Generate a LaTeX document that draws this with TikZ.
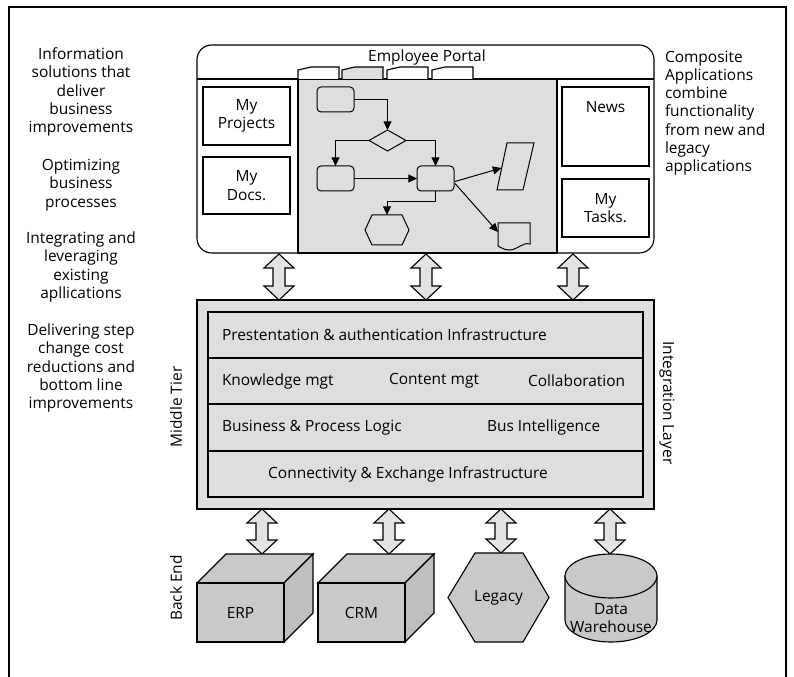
\documentclass[tikz,border=0pt]{standalone}
\usepackage{fontspec}
\setmainfont{Open Sans}
\usetikzlibrary{calc,arrows.meta,shapes.geometric}
\definecolor{panel}{gray}{0.87}
\definecolor{boxg}{gray}{0.79}
\definecolor{sideg}{gray}{0.75}
\definecolor{arrg}{gray}{0.89}
\newcommand\dblarr[2]{\draw[ln, fill=arrg] (#1) -- ($(#1)+(15,14)$) -- ($(#1)+(6,14)$) -- ($(#2)+(6,-14)$) -- ($(#2)+(15,-14)$) -- (#2) -- ($(#2)+(-15,-14)$) -- ($(#2)+(-6,-14)$) -- ($(#1)+(-6,14)$) -- ($(#1)+(-15,14)$) -- cycle;}
\begin{document}
\begin{tikzpicture}[x=0.75pt,y=-0.75pt,
  every node/.style={font=\fontsize{11.6}{13.7}\selectfont, inner sep=0pt, outer sep=0pt},
  ln/.style={line width=0.85pt},
  thin/.style={line width=0.75pt},
  pbox/.style={draw, ln, fill=white, minimum width=65.25pt, align=center},
  fbox/.style={draw, thin, rounded corners=3pt, minimum width=27.75pt, minimum height=18.75pt},
  farr/.style={thin, -{Triangle[length=6.5pt,width=6pt]}},
  row/.style={draw, ln, fill=panel, minimum width=326.25pt},
  cube/.style={draw, ln, fill=boxg, minimum width=65.25pt, minimum height=44.25pt},
  side/.style={align=center}]
\useasboundingbox (0,0) rectangle (794,677);
% outer frame
\draw[line width=1.1pt] (9,680) -- (9,7) -- (786,7) -- (786,680);

% side texts
\node[side] (t1) at (81,92) {Information\\solutions that\\deliver\\business\\improvements};
\node[side] (t2) at (81,185) {Optimizing\\business\\processes};
\node[side] (t3) at (81,267) {Integrating and\\leveraging\\existing\\apllications};
\node[side] (t4) at (81,368) {Delivering step\\change cost\\reductions and\\bottom line\\improvements};
\node[side, align=left, anchor=west] (t5) at (665,113) {Composite\\Applications\\combine\\functionality\\from new and\\legacy\\applications};

% portal
\node[draw, ln, fill=white, rounded corners=11pt, minimum width=342.75pt, minimum height=156pt] (portal) at (425.5,149) {};
\coordinate (tabline) at (0,79);
\draw[ln] (portal.west |- tabline) -- (portal.east |- tabline);
\node (ptitle) at (427,57) {Employee Portal};
\node[draw, ln, fill=panel, minimum width=194.25pt, minimum height=130.5pt] (panel) at (427.5,166) {};
\foreach \a/\b/\f in {298/339/white, 342/383/panel, 387/428/white, 432/473/white}
  \draw[ln, fill=\f] (\a,79) -- (\a,70) -- (\a+13,67) -- (\b,67) -- (\b,79);

\node[pbox, minimum height=43.5pt] (proj) at (246.5,116) {My\\Projects};
\node[pbox, minimum height=42.75pt] (docs) at (246.5,185.5) {My\\Docs.};
\node[pbox, minimum height=59.25pt] (news) at (605.5,126.5) {};
\node (newst) at (605.5,107) {News};
\node[pbox, minimum height=43.5pt] (tasks) at (605.5,208) {My\\Tasks.};

% flowchart
\node[fbox] (A) at (335.5,99.5) {};
\node[draw, thin, diamond, minimum width=27.75pt, minimum height=15.75pt] (D) at (387.5,140.5) {};
\node[fbox] (B) at (335.5,178.5) {};
\node[fbox] (C) at (435.5,178.5) {};
\node[minimum width=33pt, minimum height=22.5pt] (hex) at (387,230) {};
\draw[thin] (hex.west) -- ($(hex.north west)+(7,0)$) -- ($(hex.north east)+(-7,0)$) -- (hex.east) -- ($(hex.south east)+(-7,0)$) -- ($(hex.south west)+(7,0)$) -- cycle;
\node[minimum width=27.75pt, minimum height=35.25pt] (para) at (515.5,166.5) {};
\draw[thin] (para.south west) -- ($(para.north west)+(10,0)$) -- (para.north east) -- ($(para.south east)+(-11,0)$) -- cycle;
\node[minimum width=24pt, minimum height=20.25pt] (doc) at (514,236.5) {};
\draw[thin] (498,223) -- (530,223) -- (530,244) .. controls (522,242) and (518,250) .. (509,250) .. controls (504,250) and (500,247) .. (498,246) -- cycle;
\coordinate (ptip) at (501.5,168);
\coordinate (dtip) at (498,232);
\draw[farr] (A.east) -| (D.north);
\draw[farr] (D.west) -| (B.north);
\draw[farr] (D.east) -| (C.north);
\draw[farr] (B.east) -- (C.west);
\draw[farr] (C.south) -- ++(0,11) -| (hex.north);
\draw[farr] ($(C.east)+(1,3)$) -- (ptip);
\draw[farr] ($(C.east)+(1,5)$) -- (dtip);

% upper double arrows
\coordinate (u1t) at (279,254); \coordinate (u1b) at (279,300);
\coordinate (u2t) at (426,254); \coordinate (u2b) at (426,300);
\coordinate (u3t) at (573,254); \coordinate (u3b) at (573,300);
\dblarr{u1t}{u1b}
\dblarr{u2t}{u2b}
\dblarr{u3t}{u3b}

% middle tier
\node[draw, ln, fill=panel, minimum width=342.75pt, minimum height=156.75pt] (mid) at (425.5,404.5) {};
\node[row, minimum height=34.5pt] (r1) at (425.5,335) {};
\node[row, minimum height=34.5pt] (r2) at (425.5,381) {};
\node[row, minimum height=35.25pt] (r3) at (425.5,427.5) {};
\node[row, minimum height=34.5pt] (r4) at (425.5,474) {};
\node[anchor=west] (l1) at (222,335) {Prestentation \& authentication Infrastructure};
\node[anchor=west] (l2) at (222,381) {Knowledge mgt};
\node[anchor=west] (l3) at (389,381) {Content mgt};
\node[anchor=west] (l4) at (528,381) {Collaboration};
\node[anchor=west] (l5) at (222,427.5) {Business \& Process Logic};
\node[anchor=west] (l6) at (487,427.5) {Bus Intelligence};
\node (l7) at (408,474) {Connectivity \& Exchange Infrastructure};

\node[rotate=90] (mtier) at (176,407) {Middle Tier};
\node[rotate=90] (bend) at (176,588) {Back End};
\node[rotate=-90] (ilayer) at (667,403) {Integration Layer};

% lower double arrows
\coordinate (d1t) at (262,509); \coordinate (d1b) at (262,554);
\coordinate (d2t) at (389,509); \coordinate (d2b) at (389,554);
\coordinate (d3t) at (501,509); \coordinate (d3b) at (501,553);
\coordinate (d4t) at (610,509); \coordinate (d4b) at (610,554);
\dblarr{d1t}{d1b}
\dblarr{d2t}{d2b}
\dblarr{d3t}{d3b}
\dblarr{d4t}{d4b}

% back end
\draw[ln, fill=boxg] (226,554) -- (313,554) -- (284,583) -- (197,583) -- cycle;
\draw[ln, fill=sideg] (284,583) -- (313,554) -- (313,613) -- (284,642) -- cycle;
\node[cube] (erp) at (240.5,612.5) {ERP};
\draw[ln, fill=boxg] (347,554) -- (434,554) -- (405,583) -- (318,583) -- cycle;
\draw[ln, fill=sideg] (405,583) -- (434,554) -- (434,613) -- (405,642) -- cycle;
\node[cube] (crm) at (361.5,612.5) {\raisebox{-3pt}{CRM}};
\draw[ln, fill=boxg] (448,597.5) -- (475,553) -- (523,553) -- (549,597.5) -- (523,642) -- (475,642) -- cycle;
\node (legacy) at (498.5,598) {Legacy};
\draw[ln, fill=boxg] (565,576) -- (565,620) .. controls (565,632.15) and (585.6,642) .. (611,642) .. controls (636.4,642) and (657,632.15) .. (657,620) -- (657,576) -- cycle;
\draw[ln, fill=boxg] (611,576) ellipse [x radius=34.5pt, y radius=16.5pt];
\node[align=center] (dw) at (611,618) {Data\\Warehouse};
\end{tikzpicture}
\end{document}
